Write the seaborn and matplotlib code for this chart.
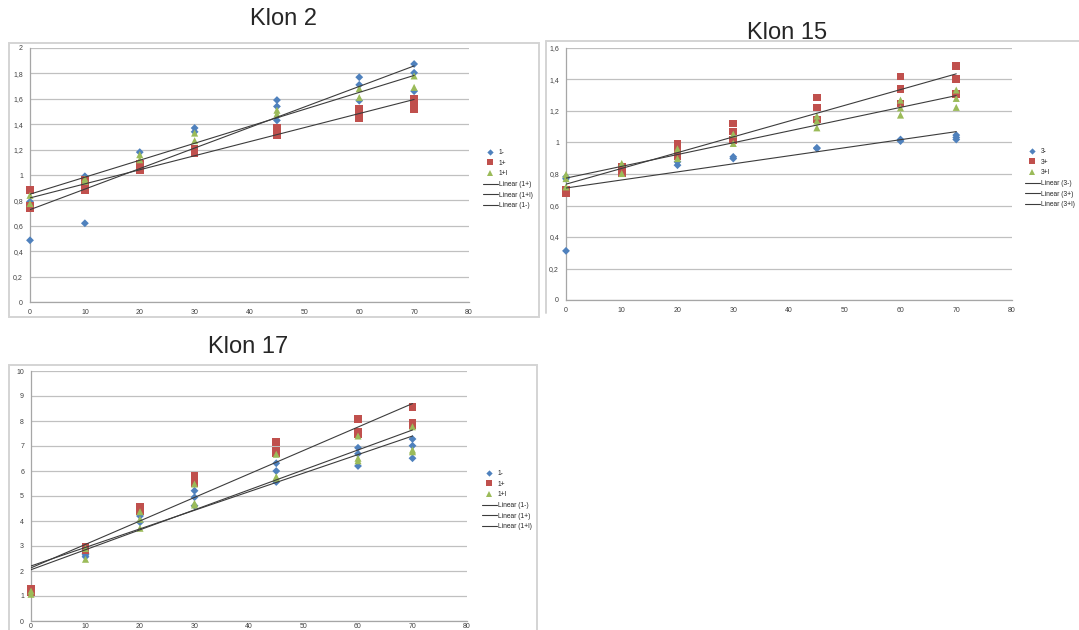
import matplotlib
matplotlib.use('Agg')
import numpy as np
import pandas as pd
import seaborn as sns
import matplotlib.pyplot as plt
from matplotlib.lines import Line2D
from matplotlib.patches import Rectangle
from matplotlib.ticker import FuncFormatter, MultipleLocator

# doses on the x axis (same for all clones)
doses = [0, 10, 20, 30, 45, 60, 70]

# Klon 2 - replicate values per dose
k2_minus = [[0.486, 0.79], [0.99, 0.62], [1.18], [1.37, 1.34],
            [1.59, 1.54, 1.43], [1.77, 1.71, 1.585], [1.874, 1.805, 1.66]]
k2_plus = [[0.88, 0.757, 0.736], [0.965, 0.907, 0.88], [1.09, 1.06, 1.04], [1.21, 1.17],
           [1.37, 1.35, 1.31], [1.52, 1.485, 1.445], [1.60, 1.57, 1.52]]
k2_plus_l = [[0.84, 0.775], [0.97, 0.95], [1.16, 1.12], [1.33, 1.27],
             [1.51, 1.48], [1.68, 1.61], [1.78, 1.69]]

# Klon 15
k15_minus = [[0.312, 0.77, 0.782], [0.83, 0.85], [0.877, 0.856], [0.909, 0.898],
             [0.966, 0.962], [1.019, 1.009], [1.047, 1.032, 1.019]]
k15_plus = [[0.697, 0.68], [0.846, 0.82, 0.803], [0.99, 0.951, 0.915], [1.121, 1.07, 1.015],
            [1.286, 1.223, 1.146], [1.418, 1.339, 1.248], [1.486, 1.403, 1.307]]
k15_plus_l = [[0.797, 0.771, 0.718], [0.867, 0.803], [0.96, 0.898], [1.053, 0.994],
              [1.168, 1.136, 1.093], [1.269, 1.22, 1.174], [1.333, 1.28, 1.223]]

# Klon 17
k17_minus = [[1.15], [2.71, 2.57, 2.65], [4.2, 3.95], [5.21, 4.95, 4.61],
             [6.31, 6.0, 5.56], [6.93, 6.69, 6.2], [7.28, 7.01, 6.51]]
k17_plus = [[1.27, 1.17], [2.97, 2.84], [4.57, 4.41], [5.81, 5.53],
            [7.17, 6.81, 6.71], [8.07, 7.57, 7.48], [8.55, 7.93, 7.84]]
k17_plus_l = [[1.2, 1.07], [2.9, 2.47], [4.37, 4.07, 3.71], [5.48, 4.71, 4.64],
              [6.67, 5.77, 5.71], [7.4, 6.51, 6.41], [7.77, 6.84, 6.77]]

k2_names = ['1-', '1+', '1+l']
k2_trend = ['Linear (1+)', 'Linear (1+l)', 'Linear (1-)']
k15_names = ['3-', '3+', '3+l']
k15_trend = ['Linear (3-)', 'Linear (3+)', 'Linear (3+l)']
k17_names = ['1-', '1+', '1+l']
k17_trend = ['Linear (1-)', 'Linear (1+)', 'Linear (1+l)']

COLORS = ['#4F81BD', '#C0504D', '#9BBB59']
MARKERS = ['D', 's', '^']
SIZES = [16, 30, 26]
LEG_MS = [3.2, 4.5, 4.5]
TREND = '#3c3c3c'
GRID = '#c0c0c0'
FONT = 'Liberation Sans'

W, H = 1079, 630


def to_frame(series_list):
    rows = []
    for si, series in enumerate(series_list):
        for d, reps in zip(doses, series):
            for v in reps:
                rows.append({'series': si, 'dose': d, 'value': v})
    return pd.DataFrame(rows)


def box(l, t, r, b):
    return [l / W, 1 - b / H, (r - l) / W, (b - t) / H]


def comma(v, pos):
    return f'{v:g}'.replace('.', ',')


def draw(fig, rect, series_list, ymax, ystep, names, trend_names, leg_xy, xpad=2.5):
    ax = fig.add_axes(box(*rect))
    df = to_frame(series_list)
    for i in range(3):
        sub = df[df['series'] == i]
        sns.scatterplot(data=sub, x='dose', y='value', ax=ax, color=COLORS[i],
                        marker=MARKERS[i], s=SIZES[i], edgecolor='none', zorder=3,
                        clip_on=False)
    for i in range(3):
        sub = df[df['series'] == i]
        sns.regplot(data=sub, x='dose', y='value', ax=ax, scatter=False, ci=None,
                    color=TREND, line_kws={'lw': 0.8, 'zorder': 4})
    ax.set_xlim(0, 80)
    ax.set_ylim(0, ymax)
    ax.xaxis.set_major_locator(MultipleLocator(10))
    ax.yaxis.set_major_locator(MultipleLocator(ystep))
    ax.xaxis.set_major_formatter(FuncFormatter(comma))
    ax.yaxis.set_major_formatter(FuncFormatter(comma))
    ax.set_xlabel('')
    ax.set_ylabel('')
    ax.grid(axis='y', color=GRID, lw=0.9)
    ax.grid(axis='x', visible=False)
    ax.set_axisbelow(True)
    for s in ['top', 'right']:
        ax.spines[s].set_visible(False)
    for s in ['left', 'bottom']:
        ax.spines[s].set_color('#a6a6a6')
        ax.spines[s].set_linewidth(0.9)
    ax.tick_params(axis='both', labelsize=5, colors='#a6a6a6', labelcolor='#404040',
                   length=2.5, width=0.8, pad=2.5)
    ax.tick_params(axis='x', pad=xpad)
    ax.set_facecolor('white')

    handles = []
    for i in range(3):
        handles.append(Line2D([], [], ls='none', marker=MARKERS[i], color=COLORS[i],
                              markersize=LEG_MS[i], markeredgewidth=0, label=names[i]))
    for t in trend_names:
        handles.append(Line2D([], [], color=TREND, lw=0.8, label=t))
    fig.legend(handles=handles, loc='center left',
               bbox_to_anchor=(leg_xy[0] / W, 1 - leg_xy[1] / H),
               frameon=False, prop={'family': FONT, 'size': 4.8},
               handlelength=2.2, handletextpad=0.2, labelspacing=0.55,
               borderaxespad=0, borderpad=0)
    return ax


sns.set_theme(style='white')
plt.rcParams['font.family'] = [FONT, 'DejaVu Sans']

fig = plt.figure(figsize=(W / 100, H / 100), dpi=100)
fig.patch.set_facecolor('white')

# chart-area frames
frame_kw = dict(transform=fig.transFigure, fill=False, ec='#d4d4d4', lw=1.4)
fig.add_artist(Rectangle((9 / W, 1 - 317 / H), 530 / W, 274 / H, **frame_kw))
fig.add_artist(Rectangle((9 / W, 1 - 660 / H), 528 / W, 295 / H, **frame_kw))
fig.add_artist(Line2D([546 / W, 546 / W], [1 - 41 / H, 1 - 313 / H],
                      transform=fig.transFigure, color='#d4d4d4', lw=1.4))
fig.add_artist(Line2D([546 / W, 1.0], [1 - 41 / H, 1 - 41 / H],
                      transform=fig.transFigure, color='#d4d4d4', lw=1.4))

draw(fig, (30, 48, 469, 302), [k2_minus, k2_plus, k2_plus_l], 2, 0.2,
     k2_names, k2_trend, (483, 179))
draw(fig, (566, 48, 1012, 300), [k15_minus, k15_plus, k15_plus_l], 1.6, 0.2,
     k15_names, k15_trend, (1025, 178))
draw(fig, (31, 371, 467, 621), [k17_minus, k17_plus, k17_plus_l], 10, 1,
     k17_names, k17_trend, (482, 500), xpad=-1.2)

fig.text(284 / W, 1 - 19 / H, 'Klon 2', ha='center', va='center', fontsize=17, family=FONT)
fig.text(787 / W, 1 - 33 / H, 'Klon 15', ha='center', va='center', fontsize=17, family=FONT)
fig.text(248 / W, 1 - 347 / H, 'Klon 17', ha='center', va='center', fontsize=17, family=FONT)

fig.savefig('out.png', dpi=100)
